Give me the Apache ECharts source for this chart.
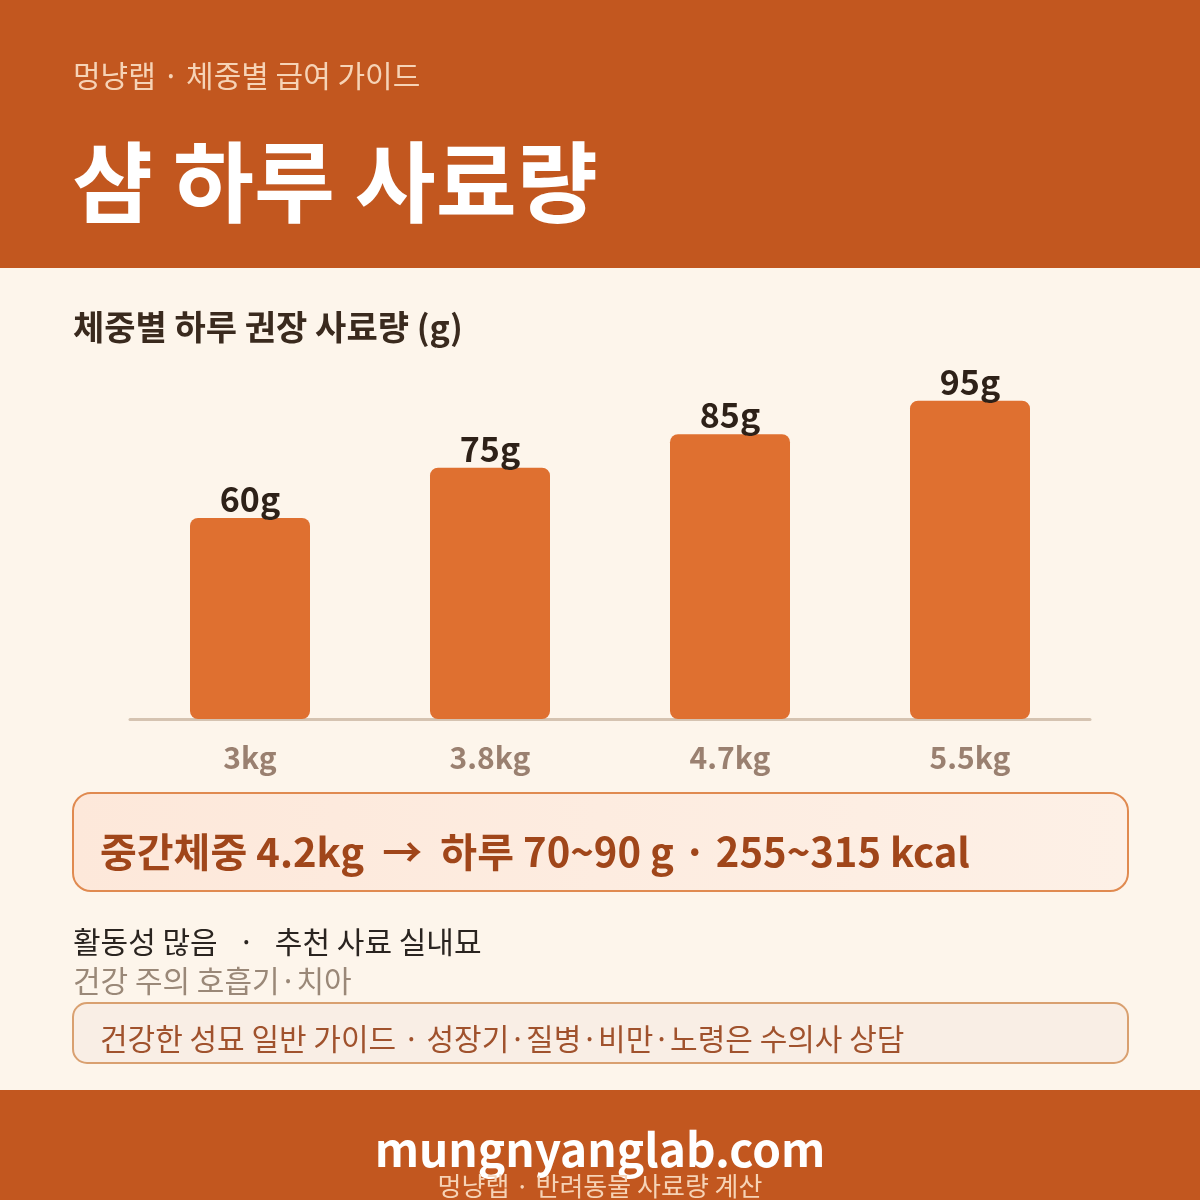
<!DOCTYPE html>
<html><head><meta charset="utf-8">
<script src="https://cdn.jsdelivr.net/npm/echarts@6/dist/echarts.min.js"></script>
<style>html,body{margin:0;padding:0;background:#FDF5EB}#c{width:1200px;height:1200px}</style>
</head><body><div id="c"></div>
<script>
const categories = ['3kg', '3.8kg', '4.7kg', '5.5kg'];
const values = [60, 75, 85, 95];
const headerSub = '멍냥랩 · 체중별 급여 가이드';
const headerTitle = '샴 하루 사료량';
const chartTitle = '체중별 하루 권장 사료량 (g)';
const highlight = '중간체중 4.2kg  →  하루 70~90 g · 255~315 kcal';
const note1 = '활동성 많음   ·   추천 사료 실내묘';
const note2 = '건강 주의 호흡기·치아';
const note3 = '건강한 성묘 일반 가이드 · 성장기·질병·비만·노령은 수의사 상담';
const footer1 = 'mungnyanglab.com';
const footer2 = '멍냥랩 · 반려동물 사료량 계산';

const F = '"Noto Sans CJK KR","Noto Sans",sans-serif';
const chart = echarts.init(document.getElementById('c'));
chart.setOption({
  backgroundColor: '#FDF5EB',
  animation: false,
  grid: { left: 130, right: 110, top: 384, height: 335, containLabel: false },
  xAxis: {
    type: 'category', data: categories,
    axisLine: { lineStyle: { color: '#D5C3B1', width: 3 } },
    axisTick: { show: false },
    axisLabel: { color: '#9A8070', fontSize: 30, fontWeight: 'bold', fontFamily: F, margin: 24 }
  },
  yAxis: { type: 'value', min: 0, max: 100, show: false, splitLine: { show: false } },
  series: [{
    type: 'bar', data: values, barWidth: 120,
    itemStyle: { color: '#DF7030', borderRadius: 8 },
    label: { show: true, position: 'top', distance: 2, formatter: '{c}g',
      color: '#2E2118', fontSize: 34, fontWeight: 'bold', fontFamily: F }
  }],
  graphic: [
    { type: 'rect', z: -1, shape: { x: 0, y: 0, width: 1200, height: 268 }, style: { fill: '#C2571F' } },
    { type: 'text', style: { text: headerSub, x: 73, y: 76, font: '30px ' + F, fill: '#F6D3B6', verticalAlign: 'middle' } },
    { type: 'text', style: { text: headerTitle, x: 72, y: 182, font: 'bold 88px ' + F, fill: '#FFFFFF', verticalAlign: 'middle' } },
    { type: 'text', style: { text: chartTitle, x: 73, y: 327, font: 'bold 34px ' + F, fill: '#3A2A1E', verticalAlign: 'middle' } },
    { type: 'rect', shape: { x: 73, y: 793, width: 1055, height: 98, r: 18 },
      style: { fill: new echarts.graphic.LinearGradient(0, 0, 1, 0, [{ offset: 0, color: '#FDE8DA' }, { offset: 1, color: '#FDF0E6' }]), stroke: '#E08A50', lineWidth: 2 } },
    { type: 'text', style: { text: highlight, x: 100, y: 852, font: 'bold 40px ' + F, fill: '#A0461A', verticalAlign: 'middle' } },
    { type: 'text', style: { text: note1, x: 73, y: 942, font: '30px ' + F, fill: '#2A2420', verticalAlign: 'middle' } },
    { type: 'text', style: { text: note2, x: 73, y: 981, font: '30px ' + F, fill: '#9A8878', verticalAlign: 'middle' } },
    { type: 'rect', shape: { x: 73, y: 1003, width: 1055, height: 60, r: 14 },
      style: { fill: '#F9EEE5', stroke: '#D9A070', lineWidth: 2 } },
    { type: 'text', style: { text: note3, x: 100, y: 1039, font: '30px ' + F, fill: '#A0522D', verticalAlign: 'middle' } },
    { type: 'rect', z: -1, shape: { x: 0, y: 1090, width: 1200, height: 110 }, style: { fill: '#C2571F' } },
    { type: 'text', style: { text: footer1, x: 600, y: 1150, font: 'bold 46px ' + F, fill: '#FFFFFF', align: 'center', verticalAlign: 'middle' } },
    { type: 'text', style: { text: footer2, x: 600, y: 1186, font: '26px ' + F, fill: '#F6D3B6', align: 'center', verticalAlign: 'middle' } }
  ]
});
</script></body></html>
